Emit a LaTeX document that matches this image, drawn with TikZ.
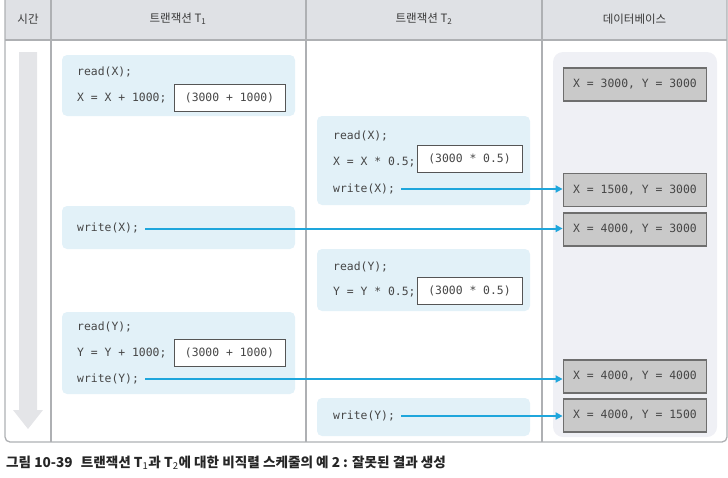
\documentclass[tikz,border=0pt]{standalone}
\usepackage{fontspec}
\newfontfamily\kr{Noto Sans CJK KR}
\newfontfamily\codefont{DejaVu Sans Mono}
\usetikzlibrary{arrows.meta}
\definecolor{headfill}{HTML}{DFE1E5}
\definecolor{tline}{HTML}{AEB0B3}
\definecolor{bluebg}{HTML}{E2F1F8}
\definecolor{dbpanel}{HTML}{EFF0F5}
\definecolor{dbfill}{HTML}{C9C9C9}
\definecolor{dbborder}{HTML}{6E6E6E}
\definecolor{valborder}{HTML}{555555}
\definecolor{codegray}{HTML}{464646}
\definecolor{flowblue}{HTML}{1EA6DC}
\definecolor{timegray}{HTML}{E4E5E8}
\definecolor{headtext}{HTML}{3A3A3A}
\tikzset{
  codetext/.style={font=\codefont\fontsize{11.4}{13}\selectfont, text=codegray, inner sep=0pt, anchor=west, text height=8.5pt, text depth=2.5pt},
  headtxt/.style={font=\kr\fontsize{11.5}{13}\selectfont, text=headtext, inner sep=0pt},
  bluebox/.style={fill=bluebg, rounded corners=5pt, inner sep=0pt},
  valbox/.style={draw=valborder, fill=white, line width=0.8pt, minimum width=111pt, minimum height=27pt, inner sep=0pt, font=\codefont\fontsize{11.4}{13}\selectfont, text=codegray},
  dbbox/.style={draw=dbborder, fill=dbfill, line width=1.8pt, minimum width=143pt, minimum height=33pt, inner sep=0pt, font=\codefont\fontsize{11.4}{13}\selectfont, text=codegray},
  flow/.style={draw=flowblue, line width=2pt, -{Triangle[length=7pt,width=7pt]}}
}
\begin{document}
\begin{tikzpicture}[x=1pt,y=-1pt]
\useasboundingbox (0,0) rectangle (728,477);
% table
\fill[headfill] (5,-10) rectangle (727,40);
\draw[tline, line width=1.3pt, rounded corners=5pt] (5,-10) rectangle (727,442);
\draw[tline, line width=1.3pt] (5,40) -- (727,40);
\draw[tline, line width=1.3pt] (51,-10) -- (51,442);
\draw[tline, line width=1.3pt] (306,-10) -- (306,442);
\draw[tline, line width=1.3pt] (542,-10) -- (542,442);
% headers
\node[headtxt] (hTime) at (28,19) {시간};
\node[headtxt] (hT1) at (178,19) {트랜잭션 T\textsubscript{1}};
\node[headtxt] (hT2) at (424,19) {트랜잭션 T\textsubscript{2}};
\node[headtxt] (hDB) at (634.5,19) {데이터베이스};
% time arrow
\fill[timegray] (19,52) -- (37,52) -- (37,410) -- (43,410) -- (28,429) -- (13,410) -- (19,410) -- cycle;
% DB panel
\fill[dbpanel, rounded corners=10pt] (553,52) rectangle (717,437);
% T1 boxes
\fill[bluebox] (62,55) rectangle (295,116);
\fill[bluebox] (62,206) rectangle (295,249);
\fill[bluebox] (62,312) rectangle (295,394);
% T2 boxes
\fill[bluebox] (317,116) rectangle (530,205);
\fill[bluebox] (317,249) rectangle (530,311);
\fill[bluebox] (317,398) rectangle (530,436);
% T1 code
\node[codetext] (a1) at (77,72) {read(X);};
\node[codetext] (a2) at (77,98) {X = X + 1000;};
\node[valbox] (av) at (229.5,97.5) {(3000 + 1000)};
\node[codetext] (a3) at (77,228.5) {write(X);};
\node[codetext] (c1) at (77,327) {read(Y);};
\node[codetext] (c2) at (77,353) {Y = Y + 1000;};
\node[valbox] (cv) at (229.5,352.5) {(3000 + 1000)};
\node[codetext] (c3) at (77,379) {write(Y);};
% T2 code
\node[codetext] (b1) at (333,136) {read(X);};
\node[codetext] (b2) at (333,162) {X = X * 0.5;};
\node[valbox, minimum width=105pt] (bv) at (469.5,159) {(3000 * 0.5)};
\node[codetext] (b3) at (333,189) {write(X);};
\node[codetext] (d1) at (333,267) {read(Y);};
\node[codetext] (d2) at (333,292) {Y = Y * 0.5;};
\node[valbox, minimum width=105pt] (dv) at (469.5,290.5) {(3000 * 0.5)};
\node[codetext] (e1) at (333,416) {write(Y);};
% DB boxes
\node[dbbox] (db1) at (635,84.5) {X = 3000, Y = 3000};
\node[dbbox] (db2) at (635,190) {X = 1500, Y = 3000};
\node[dbbox] (db3) at (635,229.5) {X = 4000, Y = 3000};
\node[dbbox] (db4) at (635,376.5) {X = 4000, Y = 4000};
\node[dbbox] (db5) at (635,415.5) {X = 4000, Y = 1500};
% arrows
\draw[flow] ([xshift=6pt]b3.east) -- (b3.east -| db2.west);
\draw[flow] ([xshift=6pt]a3.east) -- (a3.east -| db3.west);
\draw[flow] ([xshift=6pt]c3.east) -- (c3.east -| db4.west);
\draw[flow] ([xshift=6pt]e1.east) -- (e1.east -| db5.west);
% caption
\node[anchor=west, inner sep=0pt, font=\kr\bfseries\fontsize{13.6}{15}\selectfont, text=black!85] (cap) at (6,463) {그림 10-39\hspace{0.6em}트랜잭션 T\textsubscript{\mdseries 1}과 T\textsubscript{\mdseries 2}에 대한 비직렬 스케줄의 예 2 : 잘못된 결과 생성};
\end{tikzpicture}
\end{document}
